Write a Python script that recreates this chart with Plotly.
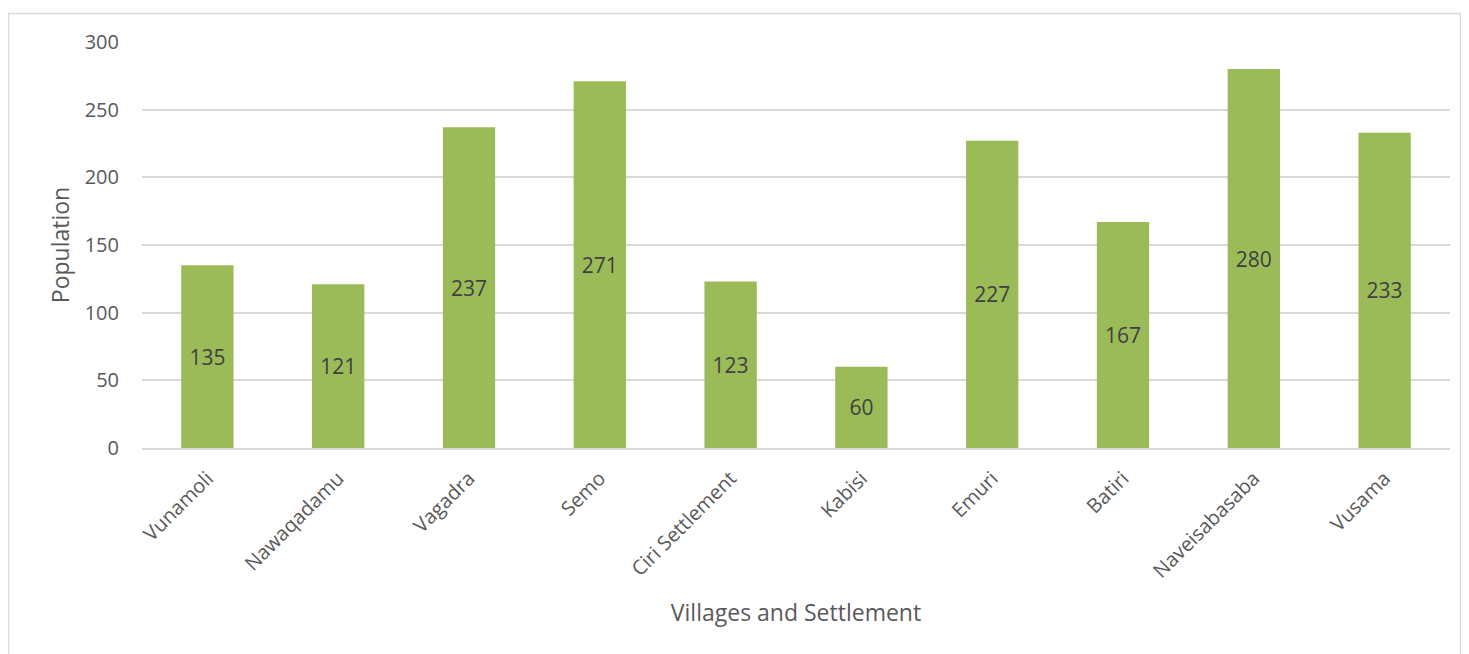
import plotly.graph_objects as go

villages = ["Vunamoli", "Nawaqadamu", "Vagadra", "Semo", "Ciri Settlement",
            "Kabisi", "Emuri", "Batiri", "Naveisabasaba", "Vusama"]
population = [135, 121, 237, 271, 123, 60, 227, 167, 280, 233]
y_ticks = [0, 50, 100, 150, 200, 250, 300]

FONT = "Open Sans"
GRAY = "#595959"

fig = go.Figure(go.Bar(
    x=villages, y=population,
    marker=dict(color="#9BBB59", line=dict(width=0)),
    text=[str(v) for v in population],
    textposition="inside", insidetextanchor="middle",
    textfont=dict(family=FONT, size=21, color="#404040"),
    textangle=0,
))

# page has an 8px body margin; figure coordinates are page - 8
OFF = 8
W, H = 1461, 646
L, T = 142 - OFF, 42 - OFF
R = W - (1450 - OFF)
B = H - (448 - OFF)
pw, ph = W - L - R, H - T - B

def px_x(p):
    return (p - OFF - L) / pw

def px_y(p):
    return (H - B - (p - OFF)) / ph

fig.update_layout(
    width=W, height=H,
    margin=dict(l=L, r=R, t=T, b=B, autoexpand=False),
    paper_bgcolor="white", plot_bgcolor="white",
    bargap=0.6,
    showlegend=False,
    font=dict(family=FONT, color=GRAY),
    xaxis=dict(
        tickangle=-45,
        tickfont=dict(family=FONT, size=20, color=GRAY),
        showline=True, linecolor="#D9D9D9", linewidth=1.5,
        ticks="", showgrid=False, ticklabelstandoff=9,
        title=dict(text="Villages and Settlement", font=dict(family=FONT, size=23, color=GRAY), standoff=23),
    ),
    yaxis=dict(
        range=[0, 300], tickvals=y_ticks,
        tickfont=dict(family=FONT, size=20, color=GRAY),
        showgrid=True, gridcolor="#D9D9D9", gridwidth=1.5,
        zeroline=False, showline=False, ticks="", ticklabelstandoff=22,
        title=dict(text="Population", font=dict(family=FONT, size=23, color=GRAY), standoff=8),
    ),
    shapes=[dict(type="rect", xref="paper", yref="paper",
                 x0=px_x(8.5), x1=px_x(1460.5), y0=px_y(700), y1=px_y(13.5),
                 line=dict(color="#D9D9D9", width=1.5), fillcolor="rgba(0,0,0,0)", layer="below")],
)

fig.write_html("out.html")
